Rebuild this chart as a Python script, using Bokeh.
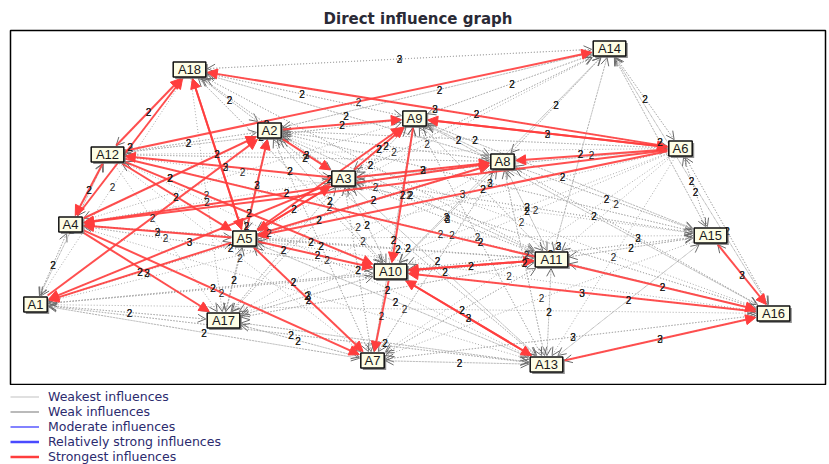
from bokeh.plotting import figure
from bokeh.layouts import column
from bokeh.models import (Range1d, ColumnDataSource, Arrow, NormalHead, OpenHead,
                          Legend, LegendItem)
from bokeh.embed import file_html
from bokeh.resources import INLINE
from bokeh.core.properties import value

# ---------------- data ----------------
node_names = ["A1", "A2", "A3", "A4", "A5", "A6", "A7", "A8", "A9", "A10",
              "A11", "A12", "A13", "A14", "A15", "A16", "A17", "A18"]
node_x = [35, 269, 343, 70, 244, 680, 372, 502, 414, 390,
          551, 107, 546, 609, 710, 773, 223, 189]
node_y = [304, 130, 178, 224, 238, 148, 360, 161, 118, 271,
          259, 154, 364, 48, 235, 313, 320, 69]

# strongest influences (red)
strong_src = ["A12", "A4", "A5", "A18", "A12", "A12", "A6", "A6", "A9", "A6",
              "A6", "A6", "A2", "A2", "A5", "A1", "A4", "A5", "A3", "A9",
              "A5", "A3", "A5", "A3", "A5", "A5", "A5", "A3", "A5", "A4",
              "A4", "A8", "A12", "A12", "A3", "A10", "A11", "A16", "A10", "A13",
              "A10", "A15", "A13", "A12"]
strong_dst = ["A18", "A18", "A18", "A5", "A4", "A14", "A18", "A9", "A6", "A8",
              "A5", "A4", "A9", "A3", "A2", "A2", "A2", "A9", "A9", "A10",
              "A3", "A5", "A8", "A8", "A10", "A7", "A1", "A1", "A4", "A17",
              "A7", "A4", "A5", "A10", "A12", "A11", "A10", "A10", "A13", "A10",
              "A7", "A16", "A16", "A16"]
strong_w = [2, 2, 2, 2, 2, 2, 3, 3, 2, 2,
            3, 2, 2, 3, 3, 2, 2, 2, 2, 2,
            2, 2, 2, 3, 2, 2, 2, 3, 2, 3,
            2, 2, 2, 2, 2, 2, 2, 3, 2, 3,
            2, 3, 2, 2]

# weakest influences (grey dotted)
weak_src = ["A1"] * 11 + ["A4"] * 11 + ["A12"] * 11 + ["A18"] * 12 + ["A2"] * 13 + \
           ["A3"] * 13 + ["A9"] * 13 + ["A8"] * 14 + ["A6"] * 11 + ["A14"] * 10 + \
           ["A5"] * 7 + ["A10"] * 13 + ["A11"] * 14 + ["A15"] * 10 + ["A16"] * 10 + \
           ["A13"] * 10 + ["A7"] * 10 + ["A17"] * 9
weak_dst = ["A17", "A7", "A13", "A10", "A16", "A5", "A4", "A3", "A11", "A8", "A12",
            "A1", "A5", "A3", "A10", "A12", "A2", "A17", "A13", "A11", "A8", "A9",
            "A2", "A3", "A9", "A8", "A17", "A1", "A11", "A13", "A7", "A6", "A15",
            "A2", "A9", "A3", "A8", "A12", "A14", "A10", "A11", "A6", "A1", "A17", "A4",
            "A18", "A5", "A10", "A8", "A11", "A14", "A17", "A13", "A7", "A15", "A6", "A12", "A4",
            "A2", "A9", "A10", "A11", "A7", "A8", "A13", "A18", "A17", "A15", "A16", "A14", "A6",
            "A18", "A2", "A3", "A8", "A14", "A11", "A5", "A15", "A17", "A7", "A13", "A16", "A12",
            "A9", "A3", "A10", "A11", "A15", "A13", "A14", "A2", "A17", "A7", "A16", "A18", "A5", "A12",
            "A14", "A15", "A11", "A10", "A16", "A3", "A2", "A13", "A7", "A17", "A1",
            "A6", "A9", "A8", "A18", "A15", "A2", "A3", "A11", "A10", "A16",
            "A17", "A13", "A11", "A12", "A15", "A16", "A14",
            "A17", "A3", "A8", "A15", "A16", "A5", "A2", "A18", "A9", "A14", "A1", "A4", "A12",
            "A8", "A9", "A15", "A13", "A3", "A7", "A16", "A5", "A18", "A2", "A14", "A17", "A1", "A4",
            "A11", "A8", "A13", "A6", "A10", "A9", "A3", "A14", "A7", "A2",
            "A11", "A15", "A13", "A7", "A8", "A9", "A3", "A6", "A14", "A2",
            "A7", "A11", "A15", "A3", "A17", "A9", "A8", "A5", "A1", "A2",
            "A17", "A13", "A11", "A5", "A3", "A9", "A8", "A1", "A16", "A2",
            "A7", "A5", "A10", "A1", "A2", "A3", "A9", "A11", "A13"]
weak_w = [2, 2, 2, 2, 2, 2, 2, 3, 2, 2, 2,
          2, 3, 2, 2, 2, 2, 2, 2, 2, 2, 2,
          2, 3, 2, 2, 2, 2, 2, 2, 2, 2, 2,
          2, 2, 2, 2, 2, 3, 2, 2, 2, 2, 2, 2,
          2, 2, 2, 2, 2, 2, 2, 2, 2, 3, 2, 2, 2,
          2, 2, 2, 2, 2, 2, 2, 2, 2, 2, 3, 2, 2,
          2, 2, 2, 2, 2, 2, 2, 2, 2, 2, 2, 2, 2,
          2, 2, 2, 2, 2, 2, 2, 2, 2, 2, 3, 2, 2, 2,
          2, 2, 2, 2, 2, 3, 2, 2, 2, 2, 2,
          2, 2, 2, 2, 2, 2, 2, 2, 2, 2,
          2, 2, 2, 2, 2, 2, 2,
          2, 2, 2, 2, 3, 2, 2, 2, 2, 2, 2, 2, 2,
          2, 2, 2, 2, 3, 2, 2, 2, 2, 2, 2, 2, 2, 2,
          2, 2, 2, 2, 2, 2, 2, 2, 2, 2,
          2, 2, 3, 2, 2, 2, 2, 2, 2, 2,
          2, 2, 2, 2, 2, 2, 2, 2, 2, 2,
          2, 2, 2, 2, 2, 2, 2, 2, 3, 2,
          2, 2, 2, 2, 2, 2, 2, 2, 2]

legend_labels = ["Weakest influences", "Weak influences", "Moderate influences",
                 "Relatively strong influences", "Strongest influences"]

# ---------------- geometry helpers ----------------
pos = {n: (x, y) for n, x, y in zip(node_names, node_x, node_y)}


def half_box(name):
    return 4.6 * len(name) + 2.5, 7.5


def clip_end(xa, ya, xb, yb, name, gap=1.5):
    hw, hh = half_box(name)
    hw += gap
    hh += gap
    dx, dy = xb - xa, yb - ya
    s = min(hw / abs(dx) if dx else 1e9, hh / abs(dy) if dy else 1e9)
    return xb - dx * s, yb - dy * s


def edge_source(srcs, dsts, ws):
    d = dict(x0=[], y0=[], x1=[], y1=[], mx=[], my=[], lab=[])
    for s, t, w in zip(srcs, dsts, ws):
        xa, ya = pos[s]
        xb, yb = pos[t]
        x1, y1 = clip_end(xa, ya, xb, yb, t)
        x0, y0 = clip_end(xb, yb, xa, ya, s)
        d["x0"].append(x0); d["y0"].append(y0)
        d["x1"].append(x1); d["y1"].append(y1)
        d["mx"].append((xa + xb) / 2); d["my"].append((ya + yb) / 2)
        d["lab"].append(str(w))
    return ColumnDataSource(d)


weak_src_cds = edge_source(weak_src, weak_dst, weak_w)
strong_src_cds = edge_source(strong_src, strong_dst, strong_w)

# ---------------- main figure ----------------
p = figure(width=829, height=385, x_range=Range1d(10, 825), y_range=Range1d(385, 30),
           output_backend="svg", toolbar_location=None,
           x_axis_type=None, y_axis_type=None,
           min_border_left=10, min_border_right=4, min_border_top=30, min_border_bottom=0)
p.grid.visible = False
p.outline_line_color = "black"
p.outline_line_width = 1.5
p.background_fill_color = "white"
p.border_fill_color = "white"

p.title.text = "Direct influence graph"
p.title.align = "center"
p.title.text_font = "DejaVu Sans"
p.title.text_font_size = "15px"
p.title.text_font_style = "bold"
p.title.text_color = "#2a2a36"
p.title.standoff = 5

weak_arrows = Arrow(source=weak_src_cds, x_start="x0", y_start="y0", x_end="x1", y_end="y1",
                    line_color="#ababab", line_width=1, line_dash="1 2",
                    end=OpenHead(size=8, line_color="#6a6a6a", line_width=1),
                    level="underlay")
p.add_layout(weak_arrows)

strong_arrows = Arrow(source=strong_src_cds, x_start="x0", y_start="y0", x_end="x1", y_end="y1",
                      line_color="#ff3d3d", line_width=2.0, line_alpha=0.9,
                      end=NormalHead(size=10, fill_color="#ff3d3d", line_color="#ff3d3d"),
                      level="underlay")
p.add_layout(strong_arrows)

label_font = value("Liberation Sans")
p.text(x="mx", y="my", text="lab", source=weak_src_cds, text_font=label_font,
       text_font_size="10px", text_color="#1e1e1e", text_align="center",
       text_baseline="middle")
p.text(x="mx", y="my", text="lab", source=strong_src_cds, text_font=label_font,
       text_font_size="10px", text_color="#1e1e1e", text_align="center",
       text_baseline="middle")

nodes = ColumnDataSource(dict(
    x=node_x, y=node_y, name=node_names,
    w=[2 * half_box(n)[0] for n in node_names],
    sx=[x + 2 for x in node_x], sy=[y + 2 for y in node_y]))
p.rect(x="sx", y="sy", width="w", height=15, source=nodes, fill_color="#6b6b6b",
       fill_alpha=0.75, line_color=None)
p.rect(x="x", y="y", width="w", height=15, source=nodes, fill_color="#fdfde6",
       line_color="#111111", line_width=1.5)
p.text(x="x", y="y", text="name", source=nodes, text_font=value("Liberation Sans"),
       text_font_size="13px", text_color="#1a1a1a", text_align="center",
       text_baseline="middle")

# ---------------- legend figure ----------------
q = figure(width=829, height=79, output_backend="svg", toolbar_location=None,
           x_axis_type=None, y_axis_type=None,
           x_range=Range1d(0, 1), y_range=Range1d(0, 1),
           min_border_left=0, min_border_right=0, min_border_top=0, min_border_bottom=0)
q.grid.visible = False
q.outline_line_color = None
q.border_fill_color = "white"

styles = [("#d6d6d6", 1.5), ("#8c8c8c", 1.2), ("#2f2fff", 1.2), ("#4a4aff", 2.5), ("#ff3d3d", 2.5)]
items = []
for lab, (c, lw) in zip(legend_labels, styles):
    r = q.line(x=[5, 6], y=[5, 5], line_color=c, line_width=lw)
    items.append(LegendItem(label=lab, renderers=[r]))

legend = Legend(items=items, location=(0, 0), orientation="vertical",
                label_text_font="DejaVu Sans", label_text_font_size="12.5px",
                label_text_color="#2b2b6e", glyph_width=29, glyph_height=13,
                label_height=13, spacing=0, padding=0, margin=0, label_standoff=9,
                border_line_color=None, background_fill_alpha=0)
q.add_layout(legend, "center")

layout = column(p, q, spacing=0)
open("out.html", "w").write(file_html(layout, INLINE))
